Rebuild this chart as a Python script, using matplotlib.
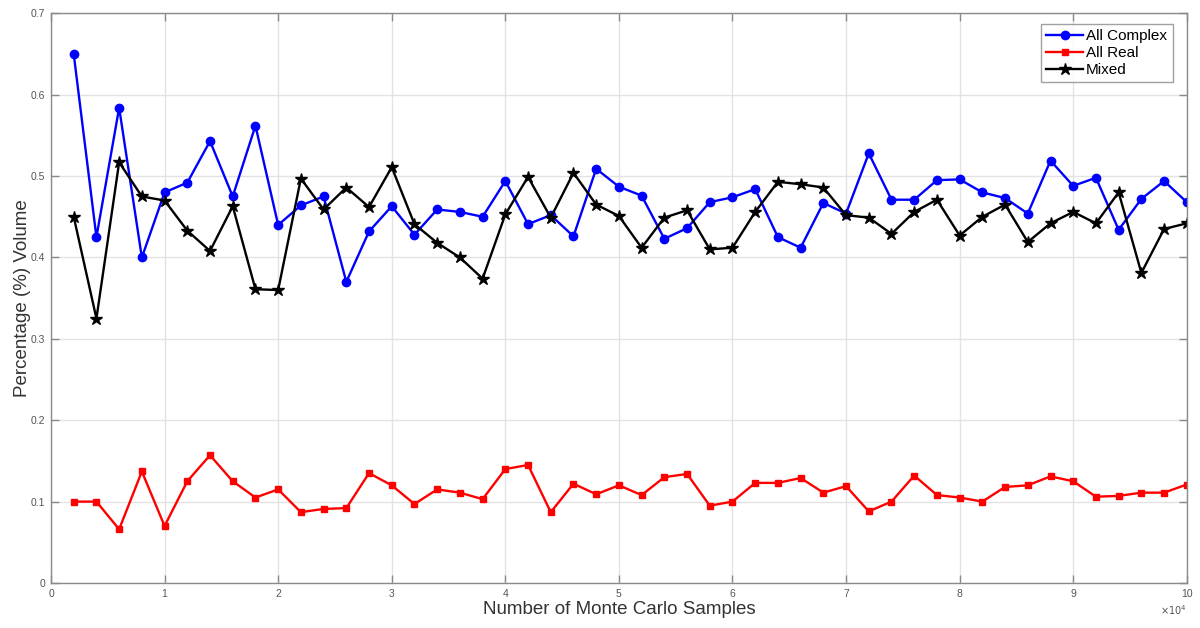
import matplotlib
matplotlib.use("Agg")
import matplotlib.pyplot as plt
from matplotlib.ticker import FuncFormatter, MultipleLocator

samples = [2000, 4000, 6000, 8000, 10000, 12000, 14000, 16000, 18000, 20000,
           22000, 24000, 26000, 28000, 30000, 32000, 34000, 36000, 38000, 40000,
           42000, 44000, 46000, 48000, 50000, 52000, 54000, 56000, 58000, 60000,
           62000, 64000, 66000, 68000, 70000, 72000, 74000, 76000, 78000, 80000,
           82000, 84000, 86000, 88000, 90000, 92000, 94000, 96000, 98000, 100000]

all_complex = [0.650, 0.425, 0.584, 0.400, 0.480, 0.492, 0.543, 0.475, 0.562, 0.440,
               0.464, 0.475, 0.370, 0.432, 0.463, 0.428, 0.459, 0.456, 0.450, 0.494,
               0.441, 0.452, 0.426, 0.509, 0.487, 0.476, 0.423, 0.436, 0.468, 0.474,
               0.484, 0.425, 0.412, 0.467, 0.454, 0.528, 0.471, 0.471, 0.495, 0.496,
               0.480, 0.473, 0.454, 0.519, 0.488, 0.498, 0.434, 0.472, 0.494, 0.468]

all_real = [0.100, 0.100, 0.066, 0.137, 0.070, 0.125, 0.157, 0.125, 0.105, 0.115,
            0.087, 0.091, 0.092, 0.135, 0.120, 0.097, 0.115, 0.111, 0.103, 0.140,
            0.145, 0.087, 0.122, 0.109, 0.120, 0.108, 0.130, 0.134, 0.095, 0.100,
            0.123, 0.123, 0.129, 0.111, 0.119, 0.088, 0.100, 0.132, 0.108, 0.105,
            0.100, 0.118, 0.120, 0.131, 0.125, 0.106, 0.107, 0.111, 0.111, 0.121]

mixed = [0.450, 0.325, 0.517, 0.475, 0.470, 0.433, 0.408, 0.463, 0.361, 0.360,
         0.497, 0.459, 0.486, 0.462, 0.511, 0.441, 0.418, 0.400, 0.374, 0.453,
         0.499, 0.449, 0.504, 0.465, 0.451, 0.412, 0.449, 0.458, 0.410, 0.412,
         0.456, 0.493, 0.490, 0.486, 0.452, 0.449, 0.429, 0.456, 0.471, 0.427,
         0.450, 0.465, 0.419, 0.442, 0.456, 0.442, 0.480, 0.381, 0.435, 0.442]

series_names = ["All Complex", "All Real", "Mixed"]

plt.rcParams['font.family'] = ['Liberation Sans', 'DejaVu Sans']

fig = plt.figure(figsize=(12, 6.28), dpi=100)
ax = fig.add_axes([0.0425, 0.0717, 0.9465, 0.907])

ax.plot(samples, all_complex, color=(0, 0, 1), lw=1.7, marker='o', ms=6,
        label=series_names[0])
ax.plot(samples, all_real, color=(1, 0, 0), lw=1.7, marker='s', ms=4.5,
        label=series_names[1])
ax.plot(samples, mixed, color='black', lw=1.7, marker='*', ms=9,
        label=series_names[2])

ax.set_xlim(0, 100000)
ax.set_ylim(0, 0.7)
ax.xaxis.set_major_locator(MultipleLocator(10000))
ax.yaxis.set_major_locator(MultipleLocator(0.1))
ax.xaxis.set_major_formatter(FuncFormatter(lambda v, p: f"{v/1e4:g}"))
ax.yaxis.set_major_formatter(FuncFormatter(lambda v, p: f"{v:g}"))

ax.grid(True, color='#e3e3e3', lw=1)
ax.set_axisbelow(True)
for s in ax.spines.values():
    s.set_color('#8a8a8a')
    s.set_linewidth(1)
ax.tick_params(direction='in', length=6, width=1, color='#8a8a8a',
               labelsize=7.5, labelcolor='#555555', top=True, right=True,
               pad=4)

ax.set_xlabel("Number of Monte Carlo Samples", fontsize=13.5, color='#333333',
              labelpad=2)
ax.set_ylabel("Percentage (%) Volume", fontsize=13.5, color='#333333',
              labelpad=0)

ax.text(1.0, -0.035, r"$\times10^{4}$", transform=ax.transAxes, ha='right',
        va='top', fontsize=7, color='#555555')

leg = ax.legend(loc='upper right', bbox_to_anchor=(0.9915, 0.99), fontsize=11,
                frameon=True, fancybox=False, handlelength=2.4,
                handletextpad=0.2, borderpad=0.35, labelspacing=0.2,
                borderaxespad=0.3)
leg.get_frame().set_edgecolor('#8a8a8a')
leg.get_frame().set_linewidth(1)

fig.savefig("out.png", dpi=100)
